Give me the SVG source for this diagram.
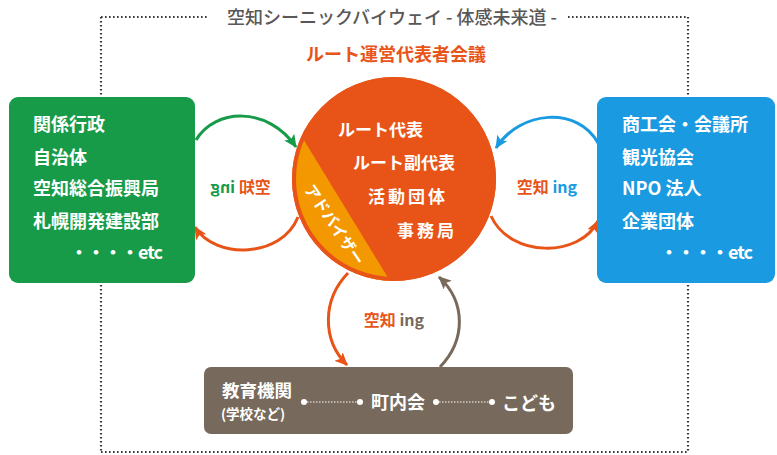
<svg xmlns="http://www.w3.org/2000/svg" width="777" height="455" viewBox="0 0 777 455">
<defs>
<style>
text{font-family:"Noto Sans CJK JP","Noto Sans",sans-serif;}
.frame{stroke:#3e3a39;stroke-width:2.2;stroke-dasharray:1.6 2.4;fill:none;}
.box{font-size:18px;font-weight:700;fill:#fff;}
.inner{font-size:17px;font-weight:700;fill:#fff;}
.lbl{font-size:16px;font-weight:700;}
.arc{fill:none;stroke-width:3;}
</style>
<marker id="mg" markerWidth="14" markerHeight="12" refX="12" refY="6" orient="auto" markerUnits="userSpaceOnUse"><path d="M0,0 L13,6 L0,12 L3,6 Z" fill="#179b48"/></marker>
<marker id="mo" markerWidth="14" markerHeight="12" refX="12" refY="6" orient="auto" markerUnits="userSpaceOnUse"><path d="M0,0 L13,6 L0,12 L3,6 Z" fill="#e85418"/></marker>
<marker id="mb" markerWidth="14" markerHeight="12" refX="12" refY="6" orient="auto" markerUnits="userSpaceOnUse"><path d="M0,0 L13,6 L0,12 L3,6 Z" fill="#1a9ae0"/></marker>
<marker id="mr" markerWidth="14" markerHeight="12" refX="12" refY="6" orient="auto" markerUnits="userSpaceOnUse"><path d="M0,0 L13,6 L0,12 L3,6 Z" fill="#776a5c"/></marker>
</defs>
<rect width="777" height="455" fill="#fff"/>

<g id="frame">
<line class="frame" x1="101" y1="17" x2="208" y2="17"/>
<line class="frame" x1="568" y1="17" x2="688" y2="17"/>
<line class="frame" x1="101" y1="17" x2="101" y2="452"/>
<line class="frame" x1="688" y1="17" x2="688" y2="452"/>
<line class="frame" x1="101" y1="452" x2="688" y2="452"/>
<text x="392" y="24" text-anchor="middle" font-size="18" font-weight="500" fill="#595757">空知シーニックバイウェイ - 体感未来道 -</text>
<text x="396" y="61" text-anchor="middle" font-size="18" font-weight="700" fill="#e85418">ルート運営代表者会議</text>
</g>

<g id="connectors">
<path class="arc" stroke="#179b48" d="M196,140 C215,108 268,106 296,147" marker-end="url(#mg)"/>
<path class="arc" stroke="#e85418" d="M298,217 C282,258 215,260 195,227" marker-end="url(#mo)"/>
<path class="arc" stroke="#1a9ae0" d="M598,143 C578,106 520,110 496,148" marker-end="url(#mb)"/>
<path class="arc" stroke="#e85418" d="M491,216 C510,258 580,258 598,221" marker-end="url(#mo)"/>
<path class="arc" stroke="#e85418" d="M348,273 C322,300 322,340 347,365" marker-end="url(#mo)"/>
<path class="arc" stroke="#776a5c" d="M440,367 C466,340 466,302 439,277" marker-end="url(#mr)"/>
<text class="lbl" x="240.5" y="193" text-anchor="middle" transform="matrix(-1 0 0 1 481 0)"><tspan fill="#e85418">空知</tspan><tspan fill="#179b48"> ing</tspan></text>
<text class="lbl" x="547" y="193" text-anchor="middle"><tspan fill="#e85418">空知</tspan><tspan fill="#1a9ae0"> ing</tspan></text>
<text class="lbl" x="394" y="326" text-anchor="middle"><tspan fill="#e85418">空知</tspan><tspan fill="#776a5c"> ing</tspan></text>
</g>

<g id="gyosei">
<rect x="9" y="97" width="186" height="186" rx="9" fill="#179b48"/>
<text class="box" x="33" y="131">関係行政</text>
<text class="box" x="33" y="164">自治体</text>
<text class="box" x="33" y="195">空知総合振興局</text>
<text class="box" x="33" y="228">札幌開発建設部</text>
<text class="box" x="70" y="259" letter-spacing="-1">・・・・etc</text>
</g>

<g id="minkan">
<rect x="597" y="97" width="178" height="186" rx="9" fill="#1a9ae0"/>
<text class="box" x="622" y="131">商工会・会議所</text>
<text class="box" x="622" y="164">観光協会</text>
<text class="box" x="622" y="195">NPO 法人</text>
<text class="box" x="622" y="228">企業団体</text>
<text class="box" x="660" y="259" letter-spacing="-1">・・・・etc</text>
</g>

<g id="kaigi">
<circle cx="394" cy="179" r="102" fill="#e85418"/>
<path d="M302,137 A102,102 0 0 0 390,281 Z" fill="#f39800"/>
<circle cx="394" cy="179" r="100" fill="none" stroke="#e85418" stroke-width="4"/>
<text class="inner" x="338" y="136">ルート代表</text>
<text class="inner" x="353" y="169">ルート副代表</text>
<text class="inner" x="368" y="203" letter-spacing="3">活動団体</text>
<text class="inner" x="397" y="237" letter-spacing="3">事務局</text>
<text x="0" y="0" font-size="15.5" font-weight="700" fill="#fff" text-anchor="middle" transform="translate(334,225) rotate(56) translate(0,5)">アドバイザー</text>
</g>

<g id="chiiki">
<rect x="204" y="367" width="369" height="67" rx="7" fill="#776a5c"/>
<text x="222" y="397" font-size="17.5" font-weight="700" fill="#fff">教育機関</text>
<text x="221" y="419" font-size="13.5" font-weight="700" fill="#fff">(学校など)</text>
<line x1="304" y1="402" x2="360" y2="402" stroke="#fff" stroke-width="1.2" stroke-dasharray="1.5 1.5"/>
<circle cx="304" cy="402" r="3" fill="#fff"/>
<circle cx="360" cy="402" r="3" fill="#fff"/>
<text class="box" x="371" y="409">町内会</text>
<line x1="436" y1="402" x2="492" y2="402" stroke="#fff" stroke-width="1.2" stroke-dasharray="1.5 1.5"/>
<circle cx="436" cy="402" r="3" fill="#fff"/>
<circle cx="492" cy="402" r="3" fill="#fff"/>
<text class="box" x="502" y="410" font-size="19">こども</text>
</g>
</svg>
